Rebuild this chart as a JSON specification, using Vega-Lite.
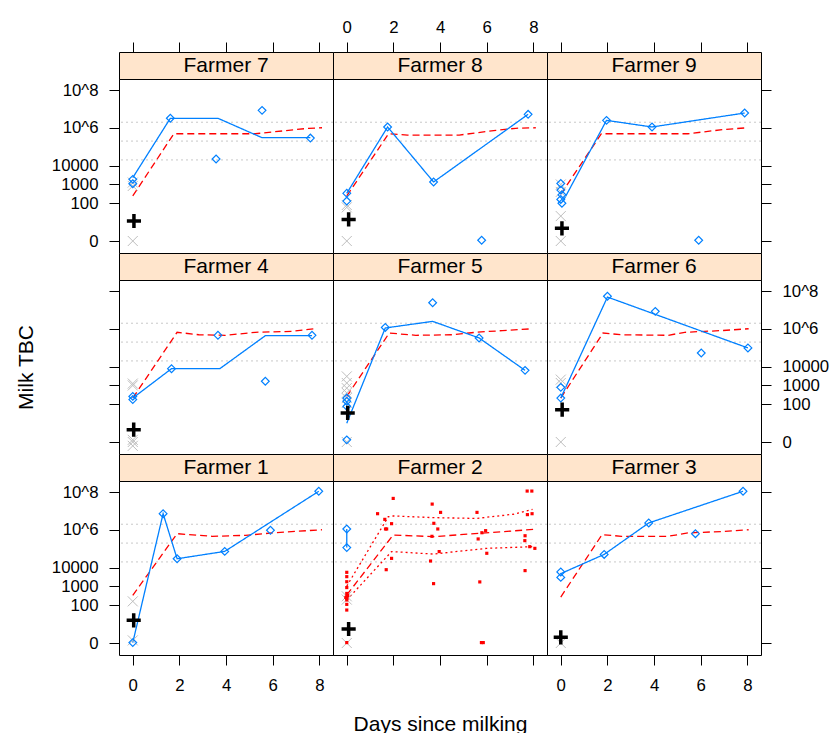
{
"$schema": "https://vega.github.io/schema/vega-lite/v6.json",
"padding": {"left": 14, "top": 18, "right": 5, "bottom": 0},
"background": "white",
"columns": 3, "spacing": 0, "bounds": "flush", "align": "each",
"config": {
  "view": {"stroke": "black", "strokeWidth": 1},
  "axis": {"grid": false, "domain": false, "ticks": true, "tickColor": "black", "tickSize": 10, "tickWidth": 1,
    "labelFont": "Liberation Sans", "labelFontSize": 16.8, "labelColor": "black", "labelFlush": false, "labelOverlap": false,
    "titleFont": "Liberation Sans", "titleFontSize": 21, "titleFontWeight": "normal", "titleColor": "black"}
},
"datasets": {
  "refs": [{"v": 20000}, {"v": 200000}, {"v": 2000000}],
  "lines": [
    {"f":7,"k":"ref","d":0,"v":244},{"f":7,"k":"ref","d":1.76,"v":490000},{"f":7,"k":"ref","d":2.54,"v":490000},{"f":7,"k":"ref","d":5.25,"v":490000},{"f":7,"k":"ref","d":7.54,"v":955000},{"f":7,"k":"ref","d":8.11,"v":1020000},
    {"f":7,"k":"blue","d":0,"v":2290},{"f":7,"k":"blue","d":1.61,"v":3240000},{"f":7,"k":"blue","d":3.65,"v":3240000},{"f":7,"k":"blue","d":5.54,"v":302000},{"f":7,"k":"blue","d":7.61,"v":302000},
    {"f":8,"k":"ref","d":0,"v":244},{"f":8,"k":"ref","d":1.79,"v":490000},{"f":8,"k":"ref","d":2.6,"v":417000},{"f":8,"k":"ref","d":4.82,"v":417000},{"f":8,"k":"ref","d":6.39,"v":741000},{"f":8,"k":"ref","d":7.24,"v":955000},{"f":8,"k":"ref","d":8.1,"v":1020000},
    {"f":8,"k":"blue","d":0,"v":338},{"f":8,"k":"blue","d":1.75,"v":1120000},{"f":8,"k":"blue","d":3.72,"v":1350},{"f":8,"k":"blue","d":7.77,"v":5250000},
    {"f":9,"k":"ref","d":0,"v":301},{"f":9,"k":"ref","d":1.74,"v":490000},{"f":9,"k":"ref","d":2.6,"v":490000},{"f":9,"k":"ref","d":5.45,"v":490000},{"f":9,"k":"ref","d":7.02,"v":832000},{"f":9,"k":"ref","d":8.02,"v":1020000},
    {"f":9,"k":"blue","d":0.1,"v":131},{"f":9,"k":"blue","d":1.96,"v":2510000},{"f":9,"k":"blue","d":3.91,"v":1120000},{"f":9,"k":"blue","d":7.88,"v":6170000},
    {"f":4,"k":"ref","d":0,"v":213},{"f":4,"k":"ref","d":1.9,"v":661000},{"f":4,"k":"ref","d":2.83,"v":490000},{"f":4,"k":"ref","d":3.97,"v":457000},{"f":4,"k":"ref","d":5.25,"v":661000},{"f":4,"k":"ref","d":6.82,"v":741000},{"f":4,"k":"ref","d":7.75,"v":1020000},
    {"f":4,"k":"blue","d":0,"v":213},{"f":4,"k":"blue","d":1.66,"v":7760},{"f":4,"k":"blue","d":3.73,"v":7760},{"f":4,"k":"blue","d":5.68,"v":437000},{"f":4,"k":"blue","d":7.68,"v":437000},
    {"f":5,"k":"ref","d":0,"v":262},{"f":5,"k":"ref","d":1.82,"v":603000},{"f":5,"k":"ref","d":2.96,"v":457000},{"f":5,"k":"ref","d":4.53,"v":490000},{"f":5,"k":"ref","d":5.53,"v":661000},{"f":5,"k":"ref","d":6.67,"v":813000},{"f":5,"k":"ref","d":7.96,"v":1020000},
    {"f":5,"k":"blue","d":0,"v":9},{"f":5,"k":"blue","d":1.65,"v":1120000},{"f":5,"k":"blue","d":3.68,"v":2510000},{"f":5,"k":"blue","d":5.67,"v":331000},{"f":5,"k":"blue","d":7.64,"v":6310},
    {"f":6,"k":"ref","d":0,"v":213},{"f":6,"k":"ref","d":1.81,"v":603000},{"f":6,"k":"ref","d":2.6,"v":490000},{"f":6,"k":"ref","d":4.6,"v":457000},{"f":6,"k":"ref","d":5.31,"v":661000},{"f":6,"k":"ref","d":6.88,"v":813000},{"f":6,"k":"ref","d":8.05,"v":1020000},
    {"f":6,"k":"blue","d":0,"v":213},{"f":6,"k":"blue","d":2.0,"v":49000000},{"f":6,"k":"blue","d":8.02,"v":97700},
    {"f":1,"k":"ref","d":0,"v":338},{"f":1,"k":"ref","d":1.9,"v":631000},{"f":1,"k":"ref","d":3.4,"v":457000},{"f":1,"k":"ref","d":4.83,"v":513000},{"f":1,"k":"ref","d":5.97,"v":692000},{"f":1,"k":"ref","d":8.11,"v":1020000},
    {"f":1,"k":"blue","d":0,"v":0.05},{"f":1,"k":"blue","d":1.3,"v":7240000},{"f":1,"k":"blue","d":1.9,"v":29500},{"f":1,"k":"blue","d":3.94,"v":72400},{"f":1,"k":"blue","d":7.97,"v":112000000},
    {"f":2,"k":"up","d":0,"v":1050},{"f":2,"k":"up","d":1.78,"v":5010000},{"f":2,"k":"up","d":1.99,"v":5500000},{"f":2,"k":"up","d":3.71,"v":4470000},{"f":2,"k":"up","d":5.56,"v":4070000},{"f":2,"k":"up","d":7.13,"v":6760000},{"f":2,"k":"up","d":7.96,"v":12300000},
    {"f":2,"k":"ref","d":0,"v":354},{"f":2,"k":"ref","d":1.99,"v":537000},{"f":2,"k":"ref","d":3.71,"v":437000},{"f":2,"k":"ref","d":5.71,"v":661000},{"f":2,"k":"ref","d":8.04,"v":1070000},
    {"f":2,"k":"lo","d":0,"v":190},{"f":2,"k":"lo","d":1.92,"v":70800},{"f":2,"k":"lo","d":3.71,"v":52500},{"f":2,"k":"lo","d":5.99,"v":105000},{"f":2,"k":"lo","d":7.99,"v":129000},
    {"f":2,"k":"blue","d":0,"v":1120000},{"f":2,"k":"blue","d":0,"v":115000},
    {"f":3,"k":"ref","d":0,"v":274},{"f":3,"k":"ref","d":1.77,"v":562000},{"f":3,"k":"ref","d":2.6,"v":457000},{"f":3,"k":"ref","d":4.6,"v":457000},{"f":3,"k":"ref","d":5.45,"v":692000},{"f":3,"k":"ref","d":7.02,"v":832000},{"f":3,"k":"ref","d":8.05,"v":1020000},
    {"f":3,"k":"blue","d":0,"v":4790},{"f":3,"k":"blue","d":1.86,"v":50100},{"f":3,"k":"blue","d":3.77,"v":2340000},{"f":3,"k":"blue","d":7.81,"v":112000000}
  ],
  "pts": [
    {"f":7,"s":"obs","d":0,"v":1860},{"f":7,"s":"obs","d":0,"v":1100},{"f":7,"s":"obs","d":1.61,"v":3240000},{"f":7,"s":"obs","d":3.57,"v":22400},{"f":7,"s":"obs","d":5.54,"v":8510000},{"f":7,"s":"obs","d":7.61,"v":288000},
    {"f":7,"s":"neg","d":0,"v":0},{"f":7,"s":"neg","d":0,"v":1260},{"f":7,"s":"neg","d":0,"v":830},{"f":7,"s":"ctl","d":0.05,"v":10.5},
    {"f":8,"s":"obs","d":0,"v":338},{"f":8,"s":"obs","d":0,"v":130},{"f":8,"s":"obs","d":1.75,"v":1120000},{"f":8,"s":"obs","d":3.72,"v":1350},{"f":8,"s":"obs","d":5.78,"v":0.1},{"f":8,"s":"obs","d":7.77,"v":5250000},
    {"f":8,"s":"neg","d":0,"v":0},{"f":8,"s":"neg","d":0,"v":80},{"f":8,"s":"neg","d":0,"v":60},{"f":8,"s":"ctl","d":0.08,"v":13},
    {"f":9,"s":"obs","d":0,"v":1120},{"f":9,"s":"obs","d":0,"v":500},{"f":9,"s":"obs","d":0.05,"v":280},{"f":9,"s":"obs","d":0,"v":160},{"f":9,"s":"obs","d":0.05,"v":100},{"f":9,"s":"obs","d":1.96,"v":2510000},{"f":9,"s":"obs","d":3.91,"v":1120000},{"f":9,"s":"obs","d":5.91,"v":0.1},{"f":9,"s":"obs","d":7.88,"v":6170000},
    {"f":9,"s":"neg","d":0,"v":1000},{"f":9,"s":"neg","d":0,"v":400},{"f":9,"s":"neg","d":0,"v":20},{"f":9,"s":"neg","d":0,"v":0},{"f":9,"s":"ctl","d":0.05,"v":3.7},
    {"f":4,"s":"obs","d":0,"v":262},{"f":4,"s":"obs","d":0,"v":177},{"f":4,"s":"obs","d":1.66,"v":7760},{"f":4,"s":"obs","d":3.65,"v":457000},{"f":4,"s":"obs","d":5.68,"v":1660},{"f":4,"s":"obs","d":7.68,"v":457000},
    {"f":4,"s":"neg","d":0,"v":1000},{"f":4,"s":"neg","d":0,"v":1260},{"f":4,"s":"neg","d":0,"v":0.3},{"f":4,"s":"neg","d":0,"v":0},{"f":4,"s":"neg","d":0,"v":-0.6},{"f":4,"s":"ctl","d":0.04,"v":3.5},
    {"f":5,"s":"obs","d":0,"v":213},{"f":5,"s":"obs","d":0,"v":144},{"f":5,"s":"obs","d":0,"v":77},{"f":5,"s":"obs","d":0,"v":0.3},{"f":5,"s":"obs","d":1.65,"v":1200000},{"f":5,"s":"obs","d":3.68,"v":24500000},{"f":5,"s":"obs","d":5.67,"v":331000},{"f":5,"s":"obs","d":7.64,"v":6310},
    {"f":5,"s":"neg","d":0,"v":3020},{"f":5,"s":"neg","d":0,"v":1350},{"f":5,"s":"neg","d":0,"v":720},{"f":5,"s":"neg","d":0,"v":400},{"f":5,"s":"neg","d":0,"v":213},{"f":5,"s":"neg","d":0,"v":116},{"f":5,"s":"neg","d":0,"v":0},{"f":5,"s":"ctl","d":0.04,"v":34},
    {"f":6,"s":"obs","d":0,"v":213},{"f":6,"s":"obs","d":0,"v":790},{"f":6,"s":"obs","d":2.0,"v":53700000},{"f":6,"s":"obs","d":4.05,"v":8510000},{"f":6,"s":"obs","d":6.02,"v":52500},{"f":6,"s":"obs","d":8.02,"v":97700},
    {"f":6,"s":"neg","d":0,"v":2040},{"f":6,"s":"neg","d":0,"v":1350},{"f":6,"s":"neg","d":0,"v":0},{"f":6,"s":"ctl","d":0.06,"v":51},
    {"f":1,"s":"obs","d":0,"v":0.05},{"f":1,"s":"obs","d":1.3,"v":7240000},{"f":1,"s":"obs","d":1.9,"v":29500},{"f":1,"s":"obs","d":3.94,"v":72400},{"f":1,"s":"obs","d":5.9,"v":955000},{"f":1,"s":"obs","d":7.97,"v":112000000},
    {"f":1,"s":"neg","d":0,"v":161},{"f":1,"s":"neg","d":0,"v":0.38},{"f":1,"s":"ctl","d":0.04,"v":15},
    {"f":2,"s":"obs","d":0,"v":1120000},{"f":2,"s":"obs","d":0,"v":115000},
    {"f":2,"s":"neg","d":0,"v":0},{"f":2,"s":"neg","d":0,"v":300},{"f":2,"s":"neg","d":0,"v":200},{"f":2,"s":"ctl","d":0.08,"v":4.5},
    {"f":2,"s":"sq","d":1.99,"v":46800000},{"f":2,"s":"sq","d":3.66,"v":23400000},{"f":2,"s":"sq","d":1.32,"v":7240000},{"f":2,"s":"sq","d":1.63,"v":3630000},{"f":2,"s":"sq","d":1.92,"v":2140000},
    {"f":2,"s":"sq","d":4.02,"v":8510000},{"f":2,"s":"sq","d":5.58,"v":8510000},{"f":2,"s":"sq","d":7.73,"v":115000000},{"f":2,"s":"sq","d":7.93,"v":115000000},{"f":2,"s":"sq","d":7.94,"v":7240000},
    {"f":2,"s":"sq","d":7.74,"v":6460000},{"f":2,"s":"sq","d":3.73,"v":2240000},{"f":2,"s":"sq","d":3.9,"v":1120000},{"f":2,"s":"sq","d":1.66,"v":1120000},{"f":2,"s":"sq","d":1.71,"v":1120000},
    {"f":2,"s":"sq","d":3.65,"v":457000},{"f":2,"s":"sq","d":5.79,"v":708000},{"f":2,"s":"sq","d":5.95,"v":912000},{"f":2,"s":"sq","d":5.63,"v":331000},{"f":2,"s":"sq","d":7.64,"v":490000},
    {"f":2,"s":"sq","d":7.63,"v":269000},{"f":2,"s":"sq","d":7.84,"v":129000},{"f":2,"s":"sq","d":8.06,"v":105000},{"f":2,"s":"sq","d":3.96,"v":70800},{"f":2,"s":"sq","d":3.59,"v":22400},
    {"f":2,"s":"sq","d":6.0,"v":57500},{"f":2,"s":"sq","d":1.69,"v":7760},{"f":2,"s":"sq","d":1.92,"v":30900},{"f":2,"s":"sq","d":3.72,"v":1410},{"f":2,"s":"sq","d":5.7,"v":1740},
    {"f":2,"s":"sq","d":7.64,"v":6920},{"f":2,"s":"sq","d":5.77,"v":0.05},{"f":2,"s":"sq","d":5.85,"v":0.05},{"f":2,"s":"sq","d":0,"v":5620},{"f":2,"s":"sq","d":0,"v":3310},
    {"f":2,"s":"sq","d":0,"v":1780},{"f":2,"s":"sq","d":0,"v":870},{"f":2,"s":"sq","d":0,"v":426},{"f":2,"s":"sq","d":0.04,"v":330},{"f":2,"s":"sq","d":0,"v":287},
    {"f":2,"s":"sq","d":-0.04,"v":260},{"f":2,"s":"sq","d":0,"v":233},{"f":2,"s":"sq","d":0,"v":190},{"f":2,"s":"sq","d":0,"v":111},{"f":2,"s":"sq","d":0,"v":55},{"f":2,"s":"sq","d":0,"v":0.05},
    {"f":3,"s":"obs","d":0,"v":5890},{"f":3,"s":"obs","d":0,"v":3020},{"f":3,"s":"obs","d":1.86,"v":50100},{"f":3,"s":"obs","d":3.77,"v":2340000},{"f":3,"s":"obs","d":5.77,"v":631000},{"f":3,"s":"obs","d":7.81,"v":112000000},
    {"f":3,"s":"neg","d":0,"v":0},{"f":3,"s":"ctl","d":0,"v":1.0}
  ]
},
"concat": [
  {"width":214,"height":27,"view":{"fill":"#ffe5cc","stroke":"black"},"data":{"values":[{"name":"Farmer 7"}]},"mark":{"type":"text","font":"Liberation Sans","fontSize":21,"baseline":"middle","color":"black"},
   "encoding":{"text":{"field":"name"},"x":{"datum":4,"type":"quantitative","scale":{"domain":[-0.59,8.58],"nice":false,"zero":false},"axis":{"orient":"top","values":[0,2,4,6,8],"labels":false,"title":null}}}},
  {"width":214,"height":27,"view":{"fill":"#ffe5cc","stroke":"black"},"data":{"values":[{"name":"Farmer 8"}]},"mark":{"type":"text","font":"Liberation Sans","fontSize":21,"baseline":"middle","color":"black"},
   "encoding":{"text":{"field":"name"},"x":{"datum":4,"type":"quantitative","scale":{"domain":[-0.59,8.58],"nice":false,"zero":false},"axis":{"orient":"top","values":[0,2,4,6,8],"title":null,"labelPadding":6}}}},
  {"width":214,"height":27,"view":{"fill":"#ffe5cc","stroke":"black"},"data":{"values":[{"name":"Farmer 9"}]},"mark":{"type":"text","font":"Liberation Sans","fontSize":21,"baseline":"middle","color":"black"},
   "encoding":{"text":{"field":"name"},"x":{"datum":4,"type":"quantitative","scale":{"domain":[-0.59,8.58],"nice":false,"zero":false},"axis":{"orient":"top","values":[0,2,4,6,8],"labels":false,"title":null}}}},

  {"width":214,"height":174,"layer":[
    {"data":{"name":"refs"},"mark":{"type":"rule","color":"#c8c8c8","strokeDash":[2,3]},"encoding":{"y":{"field":"v","type":"quantitative","scale":{"type":"symlog","constant":1,"domain":[-3.33,393000000],"nice":false,"zero":false},"axis":{"orient":"left","values":[0,100,1000,10000,1000000,100000000],"labelExpr":"datum.value >= 1e8 ? '10^8' : datum.value >= 1e6 ? '10^6' : format(datum.value, 'd')","title":null,"labelPadding":11}}}},
    {"data":{"name":"lines"},"transform":[{"filter":"datum.f == 7"}],"mark":{"type":"line","strokeWidth":1.3},"encoding":{"x":{"field":"d","type":"quantitative","scale":{"domain":[-0.59,8.58],"nice":false,"zero":false},"axis":null},"y":{"field":"v","type":"quantitative","axis":{"orient":"left","values":[0,100,1000,10000,1000000,100000000],"labelExpr":"datum.value >= 1e8 ? '10^8' : datum.value >= 1e6 ? '10^6' : format(datum.value, 'd')","title":null,"labelPadding":11}},
      "color":{"field":"k","type":"nominal","scale":{"domain":["blue","ref","up","lo"],"range":["#0080ff","#ff0000","#ff0000","#ff0000"]},"legend":null},
      "strokeDash":{"field":"k","type":"nominal","scale":{"domain":["blue","ref","up","lo"],"range":[[1,0],[7,4],[2,3],[2,3]]},"legend":null}}},
    {"data":{"name":"pts"},"transform":[{"filter":"datum.f == 7 && datum.s == 'neg'"}],"mark":{"type":"point","shape":"M-1,-1L1,1M-1,1L1,-1","size":100,"color":"#bebebe","strokeWidth":1,"filled":false,"opacity":1},"encoding":{"x":{"field":"d","type":"quantitative","axis":null},"y":{"field":"v","type":"quantitative","axis":{"orient":"left","values":[0,100,1000,10000,1000000,100000000],"labelExpr":"datum.value >= 1e8 ? '10^8' : datum.value >= 1e6 ? '10^6' : format(datum.value, 'd')","title":null,"labelPadding":11}}}},
    {"data":{"name":"pts"},"transform":[{"filter":"datum.f == 7 && datum.s == 'obs'"}],"mark":{"type":"point","shape":"diamond","size":60,"color":"#0080ff","strokeWidth":1.2,"filled":false,"opacity":1},"encoding":{"x":{"field":"d","type":"quantitative","axis":null},"y":{"field":"v","type":"quantitative","axis":{"orient":"left","values":[0,100,1000,10000,1000000,100000000],"labelExpr":"datum.value >= 1e8 ? '10^8' : datum.value >= 1e6 ? '10^6' : format(datum.value, 'd')","title":null,"labelPadding":11}}}},
    {"data":{"name":"pts"},"transform":[{"filter":"datum.f == 7 && datum.s == 'ctl'"}],"mark":{"type":"point","shape":"M-1,0L1,0M0,-1L0,1","size":200,"color":"black","strokeWidth":3.5,"filled":false,"opacity":1},"encoding":{"x":{"field":"d","type":"quantitative","axis":null},"y":{"field":"v","type":"quantitative","axis":{"orient":"left","values":[0,100,1000,10000,1000000,100000000],"labelExpr":"datum.value >= 1e8 ? '10^8' : datum.value >= 1e6 ? '10^6' : format(datum.value, 'd')","title":null,"labelPadding":11}}}}
  ]},
  {"width":214,"height":174,"layer":[
    {"data":{"name":"refs"},"mark":{"type":"rule","color":"#c8c8c8","strokeDash":[2,3]},"encoding":{"y":{"field":"v","type":"quantitative","scale":{"type":"symlog","constant":1,"domain":[-3.33,393000000],"nice":false,"zero":false},"axis":null}}},
    {"data":{"name":"lines"},"transform":[{"filter":"datum.f == 8"}],"mark":{"type":"line","strokeWidth":1.3},"encoding":{"x":{"field":"d","type":"quantitative","scale":{"domain":[-0.59,8.58],"nice":false,"zero":false},"axis":null},"y":{"field":"v","type":"quantitative","axis":null},
      "color":{"field":"k","type":"nominal","scale":{"domain":["blue","ref","up","lo"],"range":["#0080ff","#ff0000","#ff0000","#ff0000"]},"legend":null},
      "strokeDash":{"field":"k","type":"nominal","scale":{"domain":["blue","ref","up","lo"],"range":[[1,0],[7,4],[2,3],[2,3]]},"legend":null}}},
    {"data":{"name":"pts"},"transform":[{"filter":"datum.f == 8 && datum.s == 'neg'"}],"mark":{"type":"point","shape":"M-1,-1L1,1M-1,1L1,-1","size":100,"color":"#bebebe","strokeWidth":1,"filled":false,"opacity":1},"encoding":{"x":{"field":"d","type":"quantitative","axis":null},"y":{"field":"v","type":"quantitative","axis":null}}},
    {"data":{"name":"pts"},"transform":[{"filter":"datum.f == 8 && datum.s == 'obs'"}],"mark":{"type":"point","shape":"diamond","size":60,"color":"#0080ff","strokeWidth":1.2,"filled":false,"opacity":1},"encoding":{"x":{"field":"d","type":"quantitative","axis":null},"y":{"field":"v","type":"quantitative","axis":null}}},
    {"data":{"name":"pts"},"transform":[{"filter":"datum.f == 8 && datum.s == 'ctl'"}],"mark":{"type":"point","shape":"M-1,0L1,0M0,-1L0,1","size":200,"color":"black","strokeWidth":3.5,"filled":false,"opacity":1},"encoding":{"x":{"field":"d","type":"quantitative","axis":null},"y":{"field":"v","type":"quantitative","axis":null}}}
  ]},
  {"width":214,"height":174,"layer":[
    {"data":{"name":"refs"},"mark":{"type":"rule","color":"#c8c8c8","strokeDash":[2,3]},"encoding":{"y":{"field":"v","type":"quantitative","scale":{"type":"symlog","constant":1,"domain":[-3.33,393000000],"nice":false,"zero":false},"axis":{"orient":"right","values":[0,100,1000,10000,1000000,100000000],"labels":false,"title":null}}}},
    {"data":{"name":"lines"},"transform":[{"filter":"datum.f == 9"}],"mark":{"type":"line","strokeWidth":1.3},"encoding":{"x":{"field":"d","type":"quantitative","scale":{"domain":[-0.59,8.58],"nice":false,"zero":false},"axis":null},"y":{"field":"v","type":"quantitative","axis":{"orient":"right","values":[0,100,1000,10000,1000000,100000000],"labels":false,"title":null}},
      "color":{"field":"k","type":"nominal","scale":{"domain":["blue","ref","up","lo"],"range":["#0080ff","#ff0000","#ff0000","#ff0000"]},"legend":null},
      "strokeDash":{"field":"k","type":"nominal","scale":{"domain":["blue","ref","up","lo"],"range":[[1,0],[7,4],[2,3],[2,3]]},"legend":null}}},
    {"data":{"name":"pts"},"transform":[{"filter":"datum.f == 9 && datum.s == 'neg'"}],"mark":{"type":"point","shape":"M-1,-1L1,1M-1,1L1,-1","size":100,"color":"#bebebe","strokeWidth":1,"filled":false,"opacity":1},"encoding":{"x":{"field":"d","type":"quantitative","axis":null},"y":{"field":"v","type":"quantitative","axis":{"orient":"right","values":[0,100,1000,10000,1000000,100000000],"labels":false,"title":null}}}},
    {"data":{"name":"pts"},"transform":[{"filter":"datum.f == 9 && datum.s == 'obs'"}],"mark":{"type":"point","shape":"diamond","size":60,"color":"#0080ff","strokeWidth":1.2,"filled":false,"opacity":1},"encoding":{"x":{"field":"d","type":"quantitative","axis":null},"y":{"field":"v","type":"quantitative","axis":{"orient":"right","values":[0,100,1000,10000,1000000,100000000],"labels":false,"title":null}}}},
    {"data":{"name":"pts"},"transform":[{"filter":"datum.f == 9 && datum.s == 'ctl'"}],"mark":{"type":"point","shape":"M-1,0L1,0M0,-1L0,1","size":200,"color":"black","strokeWidth":3.5,"filled":false,"opacity":1},"encoding":{"x":{"field":"d","type":"quantitative","axis":null},"y":{"field":"v","type":"quantitative","axis":{"orient":"right","values":[0,100,1000,10000,1000000,100000000],"labels":false,"title":null}}}}
  ]},

  {"width":214,"height":27,"view":{"fill":"#ffe5cc","stroke":"black"},"data":{"values":[{"name":"Farmer 4"}]},"mark":{"type":"text","font":"Liberation Sans","fontSize":21,"baseline":"middle","color":"black"},
   "encoding":{"text":{"field":"name"},"x":{"datum":4,"type":"quantitative","scale":{"domain":[-0.59,8.58],"nice":false,"zero":false},"axis":null}}},
  {"width":214,"height":27,"view":{"fill":"#ffe5cc","stroke":"black"},"data":{"values":[{"name":"Farmer 5"}]},"mark":{"type":"text","font":"Liberation Sans","fontSize":21,"baseline":"middle","color":"black"},
   "encoding":{"text":{"field":"name"},"x":{"datum":4,"type":"quantitative","scale":{"domain":[-0.59,8.58],"nice":false,"zero":false},"axis":null}}},
  {"width":214,"height":27,"view":{"fill":"#ffe5cc","stroke":"black"},"data":{"values":[{"name":"Farmer 6"}]},"mark":{"type":"text","font":"Liberation Sans","fontSize":21,"baseline":"middle","color":"black"},
   "encoding":{"text":{"field":"name"},"x":{"datum":4,"type":"quantitative","scale":{"domain":[-0.59,8.58],"nice":false,"zero":false},"axis":null}}},

  {"width":214,"height":174,"layer":[
    {"data":{"name":"refs"},"mark":{"type":"rule","color":"#c8c8c8","strokeDash":[2,3]},"encoding":{"y":{"field":"v","type":"quantitative","scale":{"type":"symlog","constant":1,"domain":[-3.33,393000000],"nice":false,"zero":false},"axis":{"orient":"left","values":[0,100,1000,10000,1000000,100000000],"labels":false,"title":"Milk TBC","titleX":-87,"titleBaseline":"alphabetic","titleAngle":-90}}}},
    {"data":{"name":"lines"},"transform":[{"filter":"datum.f == 4"}],"mark":{"type":"line","strokeWidth":1.3},"encoding":{"x":{"field":"d","type":"quantitative","scale":{"domain":[-0.59,8.58],"nice":false,"zero":false},"axis":null},"y":{"field":"v","type":"quantitative","axis":{"orient":"left","values":[0,100,1000,10000,1000000,100000000],"labels":false,"title":"Milk TBC","titleX":-87,"titleBaseline":"alphabetic","titleAngle":-90}},
      "color":{"field":"k","type":"nominal","scale":{"domain":["blue","ref","up","lo"],"range":["#0080ff","#ff0000","#ff0000","#ff0000"]},"legend":null},
      "strokeDash":{"field":"k","type":"nominal","scale":{"domain":["blue","ref","up","lo"],"range":[[1,0],[7,4],[2,3],[2,3]]},"legend":null}}},
    {"data":{"name":"pts"},"transform":[{"filter":"datum.f == 4 && datum.s == 'neg'"}],"mark":{"type":"point","shape":"M-1,-1L1,1M-1,1L1,-1","size":100,"color":"#bebebe","strokeWidth":1,"filled":false,"opacity":1},"encoding":{"x":{"field":"d","type":"quantitative","axis":null},"y":{"field":"v","type":"quantitative","axis":{"orient":"left","values":[0,100,1000,10000,1000000,100000000],"labels":false,"title":"Milk TBC","titleX":-87,"titleBaseline":"alphabetic","titleAngle":-90}}}},
    {"data":{"name":"pts"},"transform":[{"filter":"datum.f == 4 && datum.s == 'obs'"}],"mark":{"type":"point","shape":"diamond","size":60,"color":"#0080ff","strokeWidth":1.2,"filled":false,"opacity":1},"encoding":{"x":{"field":"d","type":"quantitative","axis":null},"y":{"field":"v","type":"quantitative","axis":{"orient":"left","values":[0,100,1000,10000,1000000,100000000],"labels":false,"title":"Milk TBC","titleX":-87,"titleBaseline":"alphabetic","titleAngle":-90}}}},
    {"data":{"name":"pts"},"transform":[{"filter":"datum.f == 4 && datum.s == 'ctl'"}],"mark":{"type":"point","shape":"M-1,0L1,0M0,-1L0,1","size":200,"color":"black","strokeWidth":3.5,"filled":false,"opacity":1},"encoding":{"x":{"field":"d","type":"quantitative","axis":null},"y":{"field":"v","type":"quantitative","axis":{"orient":"left","values":[0,100,1000,10000,1000000,100000000],"labels":false,"title":"Milk TBC","titleX":-87,"titleBaseline":"alphabetic","titleAngle":-90}}}}
  ]},
  {"width":214,"height":174,"layer":[
    {"data":{"name":"refs"},"mark":{"type":"rule","color":"#c8c8c8","strokeDash":[2,3]},"encoding":{"y":{"field":"v","type":"quantitative","scale":{"type":"symlog","constant":1,"domain":[-3.33,393000000],"nice":false,"zero":false},"axis":null}}},
    {"data":{"name":"lines"},"transform":[{"filter":"datum.f == 5"}],"mark":{"type":"line","strokeWidth":1.3},"encoding":{"x":{"field":"d","type":"quantitative","scale":{"domain":[-0.59,8.58],"nice":false,"zero":false},"axis":null},"y":{"field":"v","type":"quantitative","axis":null},
      "color":{"field":"k","type":"nominal","scale":{"domain":["blue","ref","up","lo"],"range":["#0080ff","#ff0000","#ff0000","#ff0000"]},"legend":null},
      "strokeDash":{"field":"k","type":"nominal","scale":{"domain":["blue","ref","up","lo"],"range":[[1,0],[7,4],[2,3],[2,3]]},"legend":null}}},
    {"data":{"name":"pts"},"transform":[{"filter":"datum.f == 5 && datum.s == 'neg'"}],"mark":{"type":"point","shape":"M-1,-1L1,1M-1,1L1,-1","size":100,"color":"#bebebe","strokeWidth":1,"filled":false,"opacity":1},"encoding":{"x":{"field":"d","type":"quantitative","axis":null},"y":{"field":"v","type":"quantitative","axis":null}}},
    {"data":{"name":"pts"},"transform":[{"filter":"datum.f == 5 && datum.s == 'obs'"}],"mark":{"type":"point","shape":"diamond","size":60,"color":"#0080ff","strokeWidth":1.2,"filled":false,"opacity":1},"encoding":{"x":{"field":"d","type":"quantitative","axis":null},"y":{"field":"v","type":"quantitative","axis":null}}},
    {"data":{"name":"pts"},"transform":[{"filter":"datum.f == 5 && datum.s == 'ctl'"}],"mark":{"type":"point","shape":"M-1,0L1,0M0,-1L0,1","size":200,"color":"black","strokeWidth":3.5,"filled":false,"opacity":1},"encoding":{"x":{"field":"d","type":"quantitative","axis":null},"y":{"field":"v","type":"quantitative","axis":null}}}
  ]},
  {"width":214,"height":174,"layer":[
    {"data":{"name":"refs"},"mark":{"type":"rule","color":"#c8c8c8","strokeDash":[2,3]},"encoding":{"y":{"field":"v","type":"quantitative","scale":{"type":"symlog","constant":1,"domain":[-3.33,393000000],"nice":false,"zero":false},"axis":{"orient":"right","values":[0,100,1000,10000,1000000,100000000],"labelExpr":"datum.value >= 1e8 ? '10^8' : datum.value >= 1e6 ? '10^6' : format(datum.value, 'd')","title":null,"labelPadding":11}}}},
    {"data":{"name":"lines"},"transform":[{"filter":"datum.f == 6"}],"mark":{"type":"line","strokeWidth":1.3},"encoding":{"x":{"field":"d","type":"quantitative","scale":{"domain":[-0.59,8.58],"nice":false,"zero":false},"axis":null},"y":{"field":"v","type":"quantitative","axis":{"orient":"right","values":[0,100,1000,10000,1000000,100000000],"labelExpr":"datum.value >= 1e8 ? '10^8' : datum.value >= 1e6 ? '10^6' : format(datum.value, 'd')","title":null,"labelPadding":11}},
      "color":{"field":"k","type":"nominal","scale":{"domain":["blue","ref","up","lo"],"range":["#0080ff","#ff0000","#ff0000","#ff0000"]},"legend":null},
      "strokeDash":{"field":"k","type":"nominal","scale":{"domain":["blue","ref","up","lo"],"range":[[1,0],[7,4],[2,3],[2,3]]},"legend":null}}},
    {"data":{"name":"pts"},"transform":[{"filter":"datum.f == 6 && datum.s == 'neg'"}],"mark":{"type":"point","shape":"M-1,-1L1,1M-1,1L1,-1","size":100,"color":"#bebebe","strokeWidth":1,"filled":false,"opacity":1},"encoding":{"x":{"field":"d","type":"quantitative","axis":null},"y":{"field":"v","type":"quantitative","axis":{"orient":"right","values":[0,100,1000,10000,1000000,100000000],"labelExpr":"datum.value >= 1e8 ? '10^8' : datum.value >= 1e6 ? '10^6' : format(datum.value, 'd')","title":null,"labelPadding":11}}}},
    {"data":{"name":"pts"},"transform":[{"filter":"datum.f == 6 && datum.s == 'obs'"}],"mark":{"type":"point","shape":"diamond","size":60,"color":"#0080ff","strokeWidth":1.2,"filled":false,"opacity":1},"encoding":{"x":{"field":"d","type":"quantitative","axis":null},"y":{"field":"v","type":"quantitative","axis":{"orient":"right","values":[0,100,1000,10000,1000000,100000000],"labelExpr":"datum.value >= 1e8 ? '10^8' : datum.value >= 1e6 ? '10^6' : format(datum.value, 'd')","title":null,"labelPadding":11}}}},
    {"data":{"name":"pts"},"transform":[{"filter":"datum.f == 6 && datum.s == 'ctl'"}],"mark":{"type":"point","shape":"M-1,0L1,0M0,-1L0,1","size":200,"color":"black","strokeWidth":3.5,"filled":false,"opacity":1},"encoding":{"x":{"field":"d","type":"quantitative","axis":null},"y":{"field":"v","type":"quantitative","axis":{"orient":"right","values":[0,100,1000,10000,1000000,100000000],"labelExpr":"datum.value >= 1e8 ? '10^8' : datum.value >= 1e6 ? '10^6' : format(datum.value, 'd')","title":null,"labelPadding":11}}}}
  ]},

  {"width":214,"height":27,"view":{"fill":"#ffe5cc","stroke":"black"},"data":{"values":[{"name":"Farmer 1"}]},"mark":{"type":"text","font":"Liberation Sans","fontSize":21,"baseline":"middle","color":"black"},
   "encoding":{"text":{"field":"name"},"x":{"datum":4,"type":"quantitative","scale":{"domain":[-0.59,8.58],"nice":false,"zero":false},"axis":null}}},
  {"width":214,"height":27,"view":{"fill":"#ffe5cc","stroke":"black"},"data":{"values":[{"name":"Farmer 2"}]},"mark":{"type":"text","font":"Liberation Sans","fontSize":21,"baseline":"middle","color":"black"},
   "encoding":{"text":{"field":"name"},"x":{"datum":4,"type":"quantitative","scale":{"domain":[-0.59,8.58],"nice":false,"zero":false},"axis":null}}},
  {"width":214,"height":27,"view":{"fill":"#ffe5cc","stroke":"black"},"data":{"values":[{"name":"Farmer 3"}]},"mark":{"type":"text","font":"Liberation Sans","fontSize":21,"baseline":"middle","color":"black"},
   "encoding":{"text":{"field":"name"},"x":{"datum":4,"type":"quantitative","scale":{"domain":[-0.59,8.58],"nice":false,"zero":false},"axis":null}}},

  {"width":214,"height":174,"layer":[
    {"data":{"name":"refs"},"mark":{"type":"rule","color":"#c8c8c8","strokeDash":[2,3]},"encoding":{"y":{"field":"v","type":"quantitative","scale":{"type":"symlog","constant":1,"domain":[-3.33,393000000],"nice":false,"zero":false},"axis":{"orient":"left","values":[0,100,1000,10000,1000000,100000000],"labelExpr":"datum.value >= 1e8 ? '10^8' : datum.value >= 1e6 ? '10^6' : format(datum.value, 'd')","title":null,"labelPadding":11}}}},
    {"data":{"name":"lines"},"transform":[{"filter":"datum.f == 1"}],"mark":{"type":"line","strokeWidth":1.3},"encoding":{"x":{"field":"d","type":"quantitative","scale":{"domain":[-0.59,8.58],"nice":false,"zero":false},"axis":{"orient":"bottom","values":[0,2,4,6,8],"title":null,"labelPadding":12}},"y":{"field":"v","type":"quantitative","axis":{"orient":"left","values":[0,100,1000,10000,1000000,100000000],"labelExpr":"datum.value >= 1e8 ? '10^8' : datum.value >= 1e6 ? '10^6' : format(datum.value, 'd')","title":null,"labelPadding":11}},
      "color":{"field":"k","type":"nominal","scale":{"domain":["blue","ref","up","lo"],"range":["#0080ff","#ff0000","#ff0000","#ff0000"]},"legend":null},
      "strokeDash":{"field":"k","type":"nominal","scale":{"domain":["blue","ref","up","lo"],"range":[[1,0],[7,4],[2,3],[2,3]]},"legend":null}}},
    {"data":{"name":"pts"},"transform":[{"filter":"datum.f == 1 && datum.s == 'neg'"}],"mark":{"type":"point","shape":"M-1,-1L1,1M-1,1L1,-1","size":100,"color":"#bebebe","strokeWidth":1,"filled":false,"opacity":1},"encoding":{"x":{"field":"d","type":"quantitative","axis":{"orient":"bottom","values":[0,2,4,6,8],"title":null,"labelPadding":12}},"y":{"field":"v","type":"quantitative","axis":{"orient":"left","values":[0,100,1000,10000,1000000,100000000],"labelExpr":"datum.value >= 1e8 ? '10^8' : datum.value >= 1e6 ? '10^6' : format(datum.value, 'd')","title":null,"labelPadding":11}}}},
    {"data":{"name":"pts"},"transform":[{"filter":"datum.f == 1 && datum.s == 'obs'"}],"mark":{"type":"point","shape":"diamond","size":60,"color":"#0080ff","strokeWidth":1.2,"filled":false,"opacity":1},"encoding":{"x":{"field":"d","type":"quantitative","axis":{"orient":"bottom","values":[0,2,4,6,8],"title":null,"labelPadding":12}},"y":{"field":"v","type":"quantitative","axis":{"orient":"left","values":[0,100,1000,10000,1000000,100000000],"labelExpr":"datum.value >= 1e8 ? '10^8' : datum.value >= 1e6 ? '10^6' : format(datum.value, 'd')","title":null,"labelPadding":11}}}},
    {"data":{"name":"pts"},"transform":[{"filter":"datum.f == 1 && datum.s == 'ctl'"}],"mark":{"type":"point","shape":"M-1,0L1,0M0,-1L0,1","size":200,"color":"black","strokeWidth":3.5,"filled":false,"opacity":1},"encoding":{"x":{"field":"d","type":"quantitative","axis":{"orient":"bottom","values":[0,2,4,6,8],"title":null,"labelPadding":12}},"y":{"field":"v","type":"quantitative","axis":{"orient":"left","values":[0,100,1000,10000,1000000,100000000],"labelExpr":"datum.value >= 1e8 ? '10^8' : datum.value >= 1e6 ? '10^6' : format(datum.value, 'd')","title":null,"labelPadding":11}}}}
  ]},
  {"width":214,"height":174,"layer":[
    {"data":{"name":"refs"},"mark":{"type":"rule","color":"#c8c8c8","strokeDash":[2,3]},"encoding":{"y":{"field":"v","type":"quantitative","scale":{"type":"symlog","constant":1,"domain":[-3.33,393000000],"nice":false,"zero":false},"axis":null}}},
    {"data":{"name":"lines"},"transform":[{"filter":"datum.f == 2"}],"mark":{"type":"line","strokeWidth":1.3},"encoding":{"x":{"field":"d","type":"quantitative","scale":{"domain":[-0.59,8.58],"nice":false,"zero":false},"axis":{"orient":"bottom","values":[0,2,4,6,8],"labels":false,"title":"Days since milking","titleY":75,"titleBaseline":"alphabetic"}},"y":{"field":"v","type":"quantitative","axis":null},
      "color":{"field":"k","type":"nominal","scale":{"domain":["blue","ref","up","lo"],"range":["#0080ff","#ff0000","#ff0000","#ff0000"]},"legend":null},
      "strokeDash":{"field":"k","type":"nominal","scale":{"domain":["blue","ref","up","lo"],"range":[[1,0],[7,4],[2,3],[2,3]]},"legend":null}}},
    {"data":{"name":"pts"},"transform":[{"filter":"datum.f == 2 && datum.s == 'neg'"}],"mark":{"type":"point","shape":"M-1,-1L1,1M-1,1L1,-1","size":100,"color":"#bebebe","strokeWidth":1,"filled":false,"opacity":1},"encoding":{"x":{"field":"d","type":"quantitative","axis":{"orient":"bottom","values":[0,2,4,6,8],"labels":false,"title":"Days since milking","titleY":75,"titleBaseline":"alphabetic"}},"y":{"field":"v","type":"quantitative","axis":null}}},
    {"data":{"name":"pts"},"transform":[{"filter":"datum.f == 2 && datum.s == 'obs'"}],"mark":{"type":"point","shape":"diamond","size":60,"color":"#0080ff","strokeWidth":1.2,"filled":false,"opacity":1},"encoding":{"x":{"field":"d","type":"quantitative","axis":{"orient":"bottom","values":[0,2,4,6,8],"labels":false,"title":"Days since milking","titleY":75,"titleBaseline":"alphabetic"}},"y":{"field":"v","type":"quantitative","axis":null}}},
    {"data":{"name":"pts"},"transform":[{"filter":"datum.f == 2 && datum.s == 'sq'"}],"mark":{"type":"point","shape":"square","size":10,"color":"#ff0000","filled":true,"opacity":1},"encoding":{"x":{"field":"d","type":"quantitative","axis":{"orient":"bottom","values":[0,2,4,6,8],"labels":false,"title":"Days since milking","titleY":75,"titleBaseline":"alphabetic"}},"y":{"field":"v","type":"quantitative","axis":null}}},
    {"data":{"name":"pts"},"transform":[{"filter":"datum.f == 2 && datum.s == 'ctl'"}],"mark":{"type":"point","shape":"M-1,0L1,0M0,-1L0,1","size":200,"color":"black","strokeWidth":3.5,"filled":false,"opacity":1},"encoding":{"x":{"field":"d","type":"quantitative","axis":{"orient":"bottom","values":[0,2,4,6,8],"labels":false,"title":"Days since milking","titleY":75,"titleBaseline":"alphabetic"}},"y":{"field":"v","type":"quantitative","axis":null}}}
  ]},
  {"width":214,"height":174,"layer":[
    {"data":{"name":"refs"},"mark":{"type":"rule","color":"#c8c8c8","strokeDash":[2,3]},"encoding":{"y":{"field":"v","type":"quantitative","scale":{"type":"symlog","constant":1,"domain":[-3.33,393000000],"nice":false,"zero":false},"axis":{"orient":"right","values":[0,100,1000,10000,1000000,100000000],"labels":false,"title":null}}}},
    {"data":{"name":"lines"},"transform":[{"filter":"datum.f == 3"}],"mark":{"type":"line","strokeWidth":1.3},"encoding":{"x":{"field":"d","type":"quantitative","scale":{"domain":[-0.59,8.58],"nice":false,"zero":false},"axis":{"orient":"bottom","values":[0,2,4,6,8],"title":null,"labelPadding":12}},"y":{"field":"v","type":"quantitative","axis":{"orient":"right","values":[0,100,1000,10000,1000000,100000000],"labels":false,"title":null}},
      "color":{"field":"k","type":"nominal","scale":{"domain":["blue","ref","up","lo"],"range":["#0080ff","#ff0000","#ff0000","#ff0000"]},"legend":null},
      "strokeDash":{"field":"k","type":"nominal","scale":{"domain":["blue","ref","up","lo"],"range":[[1,0],[7,4],[2,3],[2,3]]},"legend":null}}},
    {"data":{"name":"pts"},"transform":[{"filter":"datum.f == 3 && datum.s == 'neg'"}],"mark":{"type":"point","shape":"M-1,-1L1,1M-1,1L1,-1","size":100,"color":"#bebebe","strokeWidth":1,"filled":false,"opacity":1},"encoding":{"x":{"field":"d","type":"quantitative","axis":{"orient":"bottom","values":[0,2,4,6,8],"title":null,"labelPadding":12}},"y":{"field":"v","type":"quantitative","axis":{"orient":"right","values":[0,100,1000,10000,1000000,100000000],"labels":false,"title":null}}}},
    {"data":{"name":"pts"},"transform":[{"filter":"datum.f == 3 && datum.s == 'obs'"}],"mark":{"type":"point","shape":"diamond","size":60,"color":"#0080ff","strokeWidth":1.2,"filled":false,"opacity":1},"encoding":{"x":{"field":"d","type":"quantitative","axis":{"orient":"bottom","values":[0,2,4,6,8],"title":null,"labelPadding":12}},"y":{"field":"v","type":"quantitative","axis":{"orient":"right","values":[0,100,1000,10000,1000000,100000000],"labels":false,"title":null}}}},
    {"data":{"name":"pts"},"transform":[{"filter":"datum.f == 3 && datum.s == 'ctl'"}],"mark":{"type":"point","shape":"M-1,0L1,0M0,-1L0,1","size":200,"color":"black","strokeWidth":3.5,"filled":false,"opacity":1},"encoding":{"x":{"field":"d","type":"quantitative","axis":{"orient":"bottom","values":[0,2,4,6,8],"title":null,"labelPadding":12}},"y":{"field":"v","type":"quantitative","axis":{"orient":"right","values":[0,100,1000,10000,1000000,100000000],"labels":false,"title":null}}}}
  ]}
]
}
